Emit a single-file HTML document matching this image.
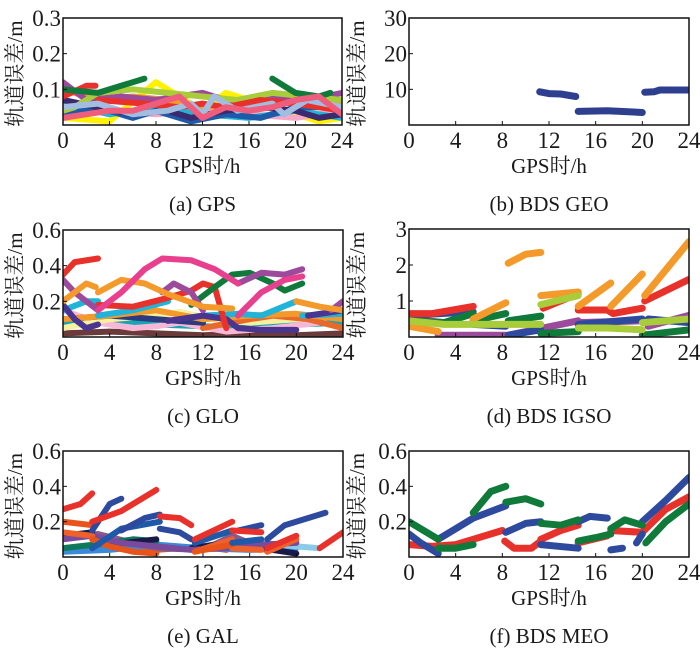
<!DOCTYPE html>
<html><head><meta charset="utf-8">
<style>
html,body{margin:0;padding:0;background:#fff;}
svg text{font-family:"Liberation Serif","DejaVu Serif","Noto Serif CJK SC",serif;fill:#1a1a1a;}
</style></head>
<body>
<svg id="fig" width="700" height="656" viewBox="0 0 700 656" xmlns="http://www.w3.org/2000/svg"></svg>
<script>
// ---------- data ----------
const xTicks = [0,4,8,12,16,20,24];
const gpsYTicks = [0.1,0.2,0.3];
const geoYTicks = [10,20,30];
const gloYTicks = [0.2,0.4,0.6];
const igsoYTicks = [1,2,3];
const galYTicks = [0.2,0.4,0.6];
const meoYTicks = [0.2,0.4,0.6];

const gpsColors = ['#fff200','#f7a8c8','#1fb4d8','#1e5aa8','#3b2a6e','#f39a2b','#9b4a9c','#a8cc3a','#e8312a','#0f7a3a','#a3bde0','#ef5d7c'];
const gpsSeries = [
 [[[0,0.02],[4,0.01],[8,0.12],[9,0.1],[12,0.04],[14,0.09],[17,0.06],[22,0.01],[24,0.02]]],
 [[[0,0.03],[4,0.04],[8,0.03],[12,0.04],[16,0.03],[20,0.02],[24,0.04]]],
 [[[0,0.06],[4,0.03],[8,0.05],[12,0.03],[16,0.02],[20,0.04],[24,0.02]]],
 [[[0,0.03],[3,0.05],[6,0.02],[8,0.04],[11,0.01],[14,0.03],[17,0.02],[20,0.05],[24,0.05]]],
 [[[0,0.07],[3,0.05],[6,0.03],[9,0.04],[11,0.02],[14,0.04],[17,0.05],[20,0.04],[22,0.02],[24,0.03]]],
 [[[0,0.1],[3,0.07],[6,0.08],[9,0.07],[12,0.05],[16,0.06],[19,0.08],[22,0.07],[24,0.06]]],
 [[[0,0.12],[2,0.07],[5,0.08],[8,0.07],[12,0.09],[15,0.06],[18,0.08],[21,0.07],[24,0.09]]],
 [[[0,0.04],[1,0.05],[3,0.09],[6,0.1],[9,0.09],[12,0.08],[15,0.07],[18,0.09],[21,0.08],[24,0.07]]],
 [[[0,0.08],[2,0.11],[2.8,0.11]],[[3,0.07],[7,0.06],[10,0.05],[12,0.06],[14,0.05],[17,0.07],[20,0.06],[22,0.05],[24,0.04]]],
 [[[0,0.1],[3,0.09],[5,0.11],[7,0.13]],[[18,0.13],[19,0.11],[20,0.09],[22,0.08],[23,0.09]]],
 [[[0,0.05],[3,0.06],[6,0.03],[9,0.04],[11,0.06],[12,0.03],[13,0.08],[15,0.04],[18,0.06],[19,0.03],[21,0.07],[24,0.05]]],
 [[[0,0.02],[2,0.03],[4,0.04],[6,0.04],[8,0.06],[10,0.08],[12,0.02],[14,0.05],[16,0.04],[18,0.05],[20,0.07],[22,0.08],[24,0.03]]]
];

const geoColors = ['#2e3f8f'];
const geoSeries = [
 [[[11.2,9.3],[12,8.8],[13,8.7],[14.3,8.0]],[[14.5,3.8],[17,4.0],[20,3.5]],[[20.2,9.2],[21,9.3],[21.5,9.8],[24,9.8]]]
];

const gloColors = ['#6b3a3a','#17a5b5','#f7b8d8','#f6f0a0','#e86a2a','#2d3a7e','#f39a2b','#1fb4d8','#4a3590','#e8312a','#0f7a3a','#9b4a9c','#f39a2b','#e8408f'];
const gloSeries = [
 [[[0,0.02],[4,0.03],[8,0.02],[12,0.01],[16,0.02],[20,0.01],[24,0.02]]],
 [[[0,0.08],[4,0.1],[8,0.07],[12,0.06],[16,0.05],[20,0.07],[24,0.08]]],
 [[[0,0.15],[3,0.08],[6,0.05],[8,0.06],[10,0.08],[14,0.03],[18,0.05],[22,0.08]]],
 [[[0,0.05],[4,0.1],[8,0.12],[10,0.14],[13,0.1],[16,0.08],[20,0.1],[24,0.12]]],
 [[[12,0.05],[16,0.1],[18,0.12],[21,0.1],[24,0.05]]],
 [[[0,0.1],[4,0.12],[8,0.1],[12,0.08]]],
 [[[0,0.1],[4,0.12],[8,0.15],[12,0.1],[16,0.12],[20,0.13],[24,0.1]]],
 [[[0,0.15],[2,0.2],[3,0.2]],[[3,0.12],[6,0.15],[9,0.2]],[[12,0.12],[15,0.13],[17,0.12],[20,0.2]],[[20.5,0.12],[24,0.13]]],
 [[[0,0.18],[1,0.1],[2,0.05],[3,0.07]],[[9,0.09],[12,0.12],[14,0.1],[15,0.05],[17,0.04],[20,0.04]],[[21,0.12],[24,0.15]]],
 [[[0,0.35],[1,0.42],[3,0.44]],[[3,0.18],[6,0.17],[9,0.22],[11,0.26],[12,0.3],[13,0.28],[14,0.05]]],
 [[[11,0.18],[13,0.28],[14.5,0.35],[16,0.36],[18,0.3],[19,0.26],[20.5,0.3]]],
 [[[0,0.32],[1,0.25],[3,0.15]],[[8.5,0.25],[9.5,0.3],[11,0.25],[12,0.15]],[[15,0.3],[17,0.36],[19,0.35],[20.5,0.38]],[[23,0.15],[24,0.2]]],
 [[[0,0.2],[2,0.3],[2.8,0.28]],[[3,0.25],[5,0.32],[7,0.3],[9,0.24],[12,0.17],[14.5,0.16]],[[20,0.2],[22,0.17],[24,0.15]]],
 [[[3,0.15],[5,0.25],[7,0.38],[8.5,0.44],[11,0.43],[13,0.38],[15,0.3]],[[15,0.12],[17,0.25],[19,0.32],[20.5,0.34]]]
];

const igsoColors = ['#9b4a9c','#2d4a9e','#0f7a3a','#e8312a','#f39a2b','#a8cc3a'];
const igsoSeries = [
 [[[0,0.5],[3,0.4]],[[2.5,0.05],[8.3,0.05]],[[8.5,0.05],[14.5,0.45]],[[14.5,0.4],[20,0.45]],[[20.5,0.3],[24,0.6]]],
 [[[0,0.6],[5.5,0.7]],[[5.5,0.35],[8.3,0.3]],[[8.5,0.05],[11.3,0.2]],[[14.5,0.35],[20,0.5]],[[20.5,0.5],[24,0.4]]],
 [[[0,0.45],[3,0.4],[5.5,0.65]],[[5.5,0.45],[8.3,0.65]],[[8.5,0.45],[11.3,0.58]],[[11.3,0.1],[14.5,0.15]],[[20,0.05],[24,0.2]]],
 [[[0,0.65],[2,0.65],[5.5,0.85]],[[11.5,0.8],[14.5,1.2]],[[14.5,0.75],[17,0.75],[17.5,0.65],[20,0.8]],[[20.2,1.0],[24,1.6]]],
 [[[0,0.3],[2.5,0.15]],[[5.5,0.5],[8.3,0.95]],[[8.5,2.05],[10,2.3],[11.3,2.35]],[[11.3,1.15],[14.5,1.25]],[[14.5,0.85],[17.3,1.5]],[[17.3,0.85],[20,1.75]],[[20.2,1.15],[24,2.65]]],
 [[[0,0.45],[3,0.35],[11.3,0.35]],[[11.3,0.9],[14.5,1.15]],[[14.5,0.25],[17,0.25],[20,0.2]],[[20,0.4],[24,0.5]]]
];

const galColors = ['#c86a2a','#3a8ad8','#8a5a8a','#0f7a5a','#8ccbe8','#1a1a4a','#7a4a9c','#f0602a','#e8541a','#1e5aa8','#2d4a9e','#e8312a'];
const galSeries = [
 [[[0,0.05],[2.5,0.06],[8,0.04],[12,0.06],[14,0.04]]],
 [[[0,0.03],[4,0.04],[8,0.07],[12,0.05],[16,0.04],[20,0.05]]],
 [[[0,0.1],[3,0.13],[6,0.08],[8,0.05],[12,0.04],[14.5,0.12],[17,0.05],[20,0.08]]],
 [[[0,0.05],[4,0.08],[6,0.1],[8,0.09]]],
 [[[14.5,0.06],[17,0.08],[20,0.06],[22,0.05]]],
 [[[0,0.12],[2.5,0.14]],[[4,0.07],[8,0.1]],[[11,0.05],[14,0.08]],[[17,0.05],[20,0.02]]],
 [[[0,0.1],[2.5,0.12],[5,0.08],[8,0.06],[11,0.04],[14,0.05],[17,0.07],[20,0.08]]],
 [[[0,0.14],[2.5,0.12]],[[11.3,0.03],[14.5,0.1]],[[14.5,0.05],[17,0.04]],[[17.5,0.03],[20,0.1]]],
 [[[0,0.2],[2.5,0.18]],[[2.5,0.1],[4,0.06],[6,0.03],[8,0.02]],[[11.3,0.03],[14.5,0.07]]],
 [[[2.5,0.05],[5,0.16],[8.3,0.2]],[[11.3,0.08],[14.5,0.15]],[[14.5,0.08],[17,0.1]]],
 [[[2.5,0.15],[4,0.3],[5,0.33]],[[5,0.15],[7,0.22],[8.3,0.24]],[[8.3,0.16],[10,0.14],[11,0.1]],[[15,0.15],[17,0.18]],[[17.5,0.1],[19,0.18],[20.5,0.21],[22.5,0.25]]],
 [[[0,0.27],[1.5,0.3],[2.5,0.36]],[[2.5,0.2],[5,0.26],[8,0.38]],[[8.3,0.23],[10,0.22],[11,0.18]],[[11.3,0.1],[14.5,0.2]],[[14.5,0.15],[17,0.14]],[[17.5,0.05],[20,0.12]],[[22,0.05],[24,0.14]]]
];

const meoColors = ['#e8312a','#2d4a9e','#0f7a3a'];
const meoSeries = [
 [[[0,0.07],[2,0.06],[4,0.07],[5.5,0.1],[8,0.15]],[[8.2,0.09],[9,0.05],[10.5,0.05],[11.3,0.09]],[[11.3,0.1],[13,0.15],[14.5,0.18]],[[14.5,0.08],[17,0.12]],[[17.3,0.15],[20,0.14],[22,0.27],[24,0.34]]],
 [[[0,0.13],[1,0.08],[2.5,0.02]],[[2.5,0.1],[4,0.16],[5.5,0.22],[8.3,0.29]],[[8.3,0.14],[10,0.19],[11.3,0.2]],[[11.3,0.07],[14.5,0.05]],[[14.5,0.2],[15.5,0.23],[17,0.22]],[[17.3,0.04],[18.3,0.05]],[[19.5,0.08],[20,0.13]],[[20,0.2],[22,0.32],[24,0.45]]],
 [[[0,0.2],[2.5,0.1]],[[2.5,0.05],[4,0.05],[5.5,0.07]],[[5.5,0.25],[7,0.37],[8.3,0.4]],[[8.3,0.31],[10,0.33],[11.3,0.3]],[[11.3,0.19],[13,0.18],[14.5,0.21]],[[14.5,0.09],[16,0.11],[17.3,0.13]],[[17.3,0.16],[18.5,0.21],[20,0.18]],[[20.3,0.08],[22,0.2],[24,0.3]]]
];

// ---------- drawing ----------
const NS='http://www.w3.org/2000/svg';
const svg=document.getElementById('fig');
const FONT='"Liberation Serif","DejaVu Serif","Noto Serif CJK SC",serif';
function mk(tag,attrs,parent){const e=document.createElementNS(NS,tag);for(const k in attrs)e.setAttribute(k,attrs[k]);(parent||svg).appendChild(e);return e;}

function panel(id,box,yMax,yTicks,fmt,colors,series,sw,caption,ylabX){
  const g=mk('g',{});
  
  
  const [x0,y0,x1,y1]=box;
  const sx=v=>x0+(v/24)*(x1-x0);
  const sy=v=>y1-(v/yMax)*(y1-y0);
  const clipId='clip-'+id;
  const cp=mk('clipPath',{id:clipId},g);
  mk('rect',{x:x0,y:y0-4,width:x1-x0,height:y1-y0+4},cp);
  const sg=mk('g',{'clip-path':'url(#'+clipId+')'},g);
  
  
  series.forEach((segs,i)=>{
    segs.forEach(seg=>{
      const p=mk('polyline',{points:seg.map(pt=>sx(pt[0]).toFixed(1)+','+sy(pt[1]).toFixed(1)).join(' '),fill:'none',stroke:colors[i%colors.length],'stroke-width':sw,'stroke-linecap':'round','stroke-linejoin':'round'},sg);
      
      
    });
  });
  const fr=mk('rect',{x:x0,y:y0,width:x1-x0,height:y1-y0,fill:'none',stroke:'#111','stroke-width':1.5},g);
  
  
  xTicks.forEach(t=>{
    mk('line',{x1:sx(t),x2:sx(t),y1:y1,y2:y1-4,stroke:'#111','stroke-width':1},g);
    const tx=mk('text',{x:sx(t),y:y1+23,'font-size':23,'font-family':FONT,'text-anchor':'middle'},g);
    tx.textContent=t;
    
    
  });
  yTicks.forEach(t=>{
    mk('line',{x1:x0,x2:x0+4,y1:sy(t),y2:sy(t),stroke:'#111','stroke-width':1},g);
    const tx=mk('text',{x:x0-2,y:sy(t)+8,'font-size':23,'font-family':FONT,'text-anchor':'end'},g);
    tx.textContent=fmt(t);
    
    
  });
  const yl=mk('text',{x:0,y:0,'font-size':21,'font-family':FONT,'text-anchor':'middle',transform:'translate('+(ylabX)+','+((y0+y1)/2+2)+') rotate(-90)'},g);
  yl.textContent='轨道误差/m';
  
  
  const xl=mk('text',{x:(x0+x1)/2,y:y1+48,'font-size':21,'font-family':FONT,'text-anchor':'middle'},g);
  xl.textContent='GPS时/h';
  
  
  const cap=mk('text',{x:(x0+x1)/2,y:y1+86,'font-size':21,'font-family':FONT,'text-anchor':'middle'},g);
  cap.textContent=caption;
  
  
}
const f1=v=>v.toFixed(1), f0=v=>String(v);
panel('gps',[63,18,342,125],0.3,gpsYTicks,f1,gpsColors,gpsSeries,6,'(a) GPS',22);
panel('bds-geo',[409,18,689,125],30,geoYTicks,f0,geoColors,geoSeries,7,'(b) BDS GEO',364);
panel('glo',[63,230,343,337],0.6,gloYTicks,f1,gloColors,gloSeries,6,'(c) GLO',22);
panel('bds-igso',[409,229,689,337],3,igsoYTicks,f0,igsoColors,igsoSeries,7,'(d) BDS IGSO',364);
panel('gal',[63,451,343,557],0.6,galYTicks,f1,galColors,galSeries,6,'(e) GAL',22);
panel('bds-meo',[409,451,689,557],0.6,meoYTicks,f1,meoColors,meoSeries,7,'(f) BDS MEO',364);
</script>
</body></html>
